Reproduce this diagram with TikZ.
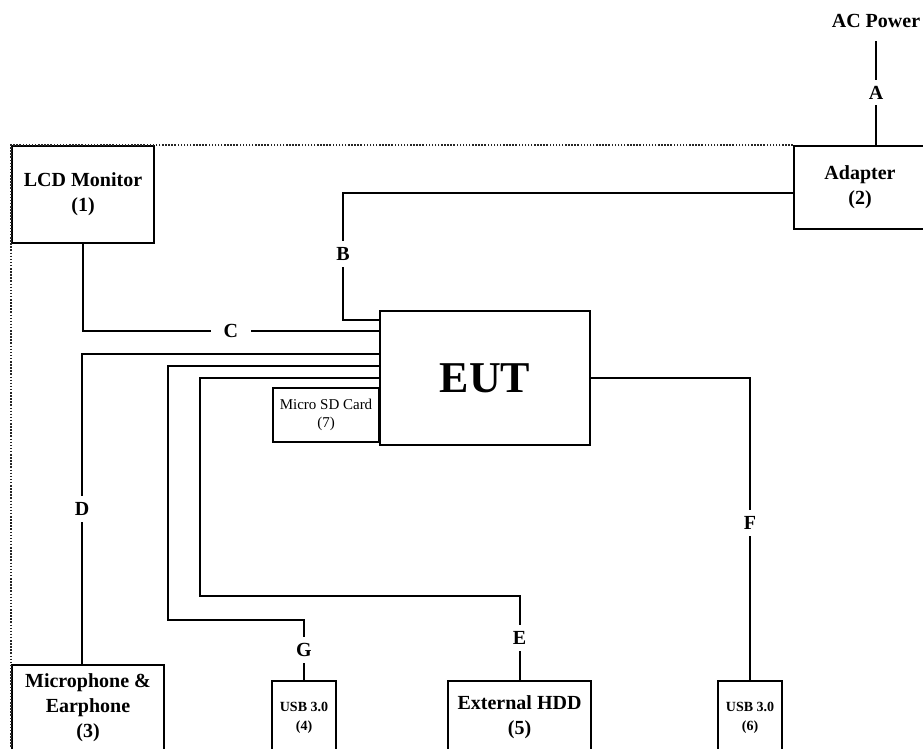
\documentclass[tikz,border=0pt]{standalone}
\usepackage{fontspec}
\setmainfont{Liberation Serif}
\usepackage{tikz}
\usetikzlibrary{positioning}

\begin{document}
\begin{tikzpicture}[x=1pt, y=-1pt,
        box/.style={draw=black, line width=2.3pt, inner sep=0pt},
        boxtext/.style={font=\fontsize{20}{25}\selectfont\bfseries, align=center, inner sep=0pt},
        smalltext/.style={font=\fontsize{14}{19}\selectfont\bfseries, align=center, inner sep=0pt},
        wire/.style={draw=black, line width=2pt},
        wirelabel/.style={fill=white, inner xsep=13pt, inner ysep=6pt, font=\fontsize{20}{20}\selectfont\bfseries},
        border/.style={draw=black!85, line width=1.6pt, dash pattern=on 1.5pt off 1.6pt}]
        \useasboundingbox (0,0) rectangle (923,749);
        \clip (0,0) rectangle (923,749);

        % Top row
        \node[box, boxtext, minimum width=142pt, minimum height=97pt] (lcd) at (83,194.5) {LCD Monitor\\(1)};
        \node[box, boxtext, minimum width=132pt, minimum height=83pt] (adapter) at (860,187.5) {Adapter\\(2)};
        \node[font=\fontsize{20}{20}\selectfont\bfseries] (ac) at (876,21) {AC Power};

        % EUT and card
        \node[box, minimum width=210pt, minimum height=134pt, font=\fontsize{44}{44}\selectfont\bfseries] (eut) at (485,378) {EUT};
        \node[box, minimum width=106pt, minimum height=54pt, font=\fontsize{15}{18}\selectfont, align=center] (sd) at (326,415) {Micro SD Card\\(7)};

        % Bottom row
        \node[box, minimum width=152pt, minimum height=110pt, anchor=north] (mic) at (88,664) {};
        \node[boxtext, below=9pt of mic.north] (mictext) {Microphone \&\\Earphone\\(3)};
        \node[box, minimum width=64pt, minimum height=90pt, anchor=north] (usbA) at (304,680) {};
        \node[smalltext, below=22pt of usbA.north] (usbAtext) {USB 3.0\\(4)};
        \node[box, minimum width=143pt, minimum height=90pt, anchor=north] (hdd) at (519.5,680) {};
        \node[boxtext, below=15pt of hdd.north] (hddtext) {External HDD\\(5)};
        \node[box, minimum width=64pt, minimum height=90pt, anchor=north] (usbB) at (750,680) {};
        \node[smalltext, below=22pt of usbB.north] (usbBtext) {USB 3.0\\(6)};

        % Test site border
        \draw[border] (adapter.north west) -- (lcd.north west) -- (lcd.north west |- mic.south);

        % Cable bends
        \coordinate (bB) at (343,320);
        \coordinate (cC) at (82,331);
        \coordinate (dD) at (82,354);
        \coordinate (gA) at (168,620);
        \coordinate (gB) at (168,366);
        \coordinate (eA) at (200,596);
        \coordinate (eB) at (200,378);

        % Cables
        \draw[wire, shorten <=10pt] (ac.south) -- node[wirelabel, pos=0.54] {A} (ac.south |- adapter.north);
        \draw[wire] ([yshift=-5.5pt]adapter.west) -| node[wirelabel, pos=0.74] {B} (bB) -- (eut.west |- bB);
        \draw[wire] (lcd.south) |- node[wirelabel, pos=0.75] {C} (eut.west |- cC);
        \draw[wire] (mic.north -| dD) -- node[wirelabel] {D} (dD) -- (eut.west |- dD);
        \draw[wire] (usbA.north) |- node[wirelabel, pos=0.25] {G} (gA) -- (gB) -- (eut.west |- gB);
        \draw[wire] (hdd.north) |- node[wirelabel, pos=0.25] {E} (eA) -- (eB) -- (eut.west |- eB);
        \draw[wire] (usbB.north) |- node[wirelabel, pos=0.26] {F} (eut.east);
    \end{tikzpicture}
\end{document}
